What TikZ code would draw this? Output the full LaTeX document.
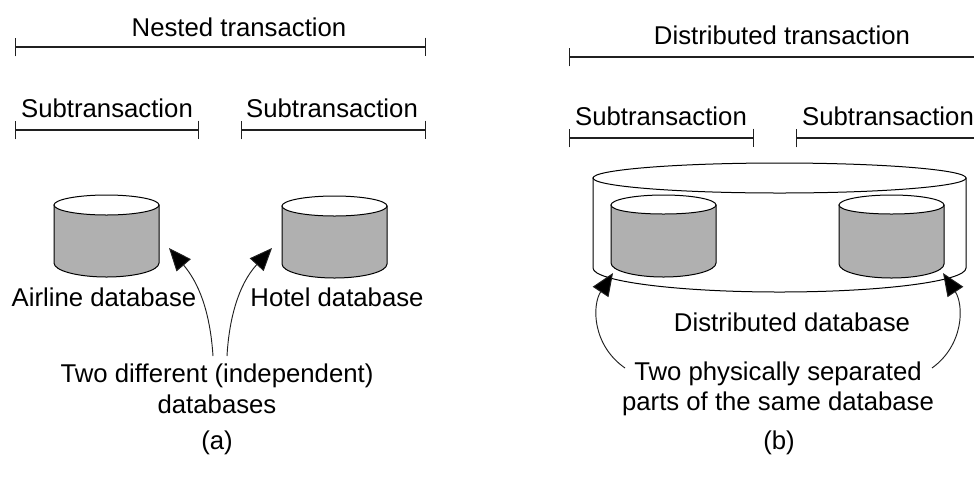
\documentclass[tikz,border=0pt]{standalone}
\usepackage{fontspec}
\setmainfont{Liberation Sans}
\usetikzlibrary{arrows.meta}

\definecolor{drumgray}{HTML}{B0B0B0}
\definecolor{inkgray}{HTML}{202020}

\tikzset{
    label_text/.style = {font = \fontsize{19.3}{23}\selectfont, align = center, inner sep = 0pt},
    line_text/.style = {label_text, text height = 18pt, text depth = 3.5pt},
    span_bar/.style = {inkgray, line width = 0.8pt, {Bar[width = 14pt]}-{Bar[width = 14pt]}},
    open_bar/.style = {inkgray, line width = 0.8pt, {Bar[width = 14pt]}-},
    pointer/.style = {inkgray, line width = 0.7pt, -{Triangle[length = 17pt, width = 14pt, fill = black]}},
    drum_line/.style = {black, line width = 0.75pt}
}

% drum: left x, right x, top, rim, front of lid, end of side, bottom; #8 = body fill
\newcommand{\drum}[8]{
    \pgfmathsetmacro{\xm}{(#1 + #2) / 2}
    \pgfmathsetmacro{\kx}{0.55 * (#2 - #1) / 2}
    \pgfmathsetmacro{\kb}{0.55 * (#7 - #6)}
    \pgfmathsetmacro{\kt}{0.55 * (#4 - #3)}
    \filldraw[drum_line, fill = #8] (#1, #4) -- (#1, #6)
        .. controls (#1, #6 + \kb) and (\xm - \kx, #7) .. (\xm, #7)
        .. controls (\xm + \kx, #7) and (#2, #6 + \kb) .. (#2, #6) -- (#2, #4) -- cycle;
    \filldraw[drum_line, fill = white] (#1, #4)
        .. controls (#1, #4 - \kt) and (\xm - \kx, #3) .. (\xm, #3)
        .. controls (\xm + \kx, #3) and (#2, #4 - \kt) .. (#2, #4)
        .. controls (#2, #4 + \kt) and (\xm + \kx, #5) .. (\xm, #5)
        .. controls (\xm - \kx, #5) and (#1, #4 + \kt) .. (#1, #4) -- cycle;
}

\begin{document}
\begin{tikzpicture}[x = 0.75pt, y = -0.75pt]
    \useasboundingbox (0, 0) rectangle (974, 480);

    % (a)
    \coordinate (nested_l) at (15, 47);
    \coordinate (nested_r) at (426, 47);
    \coordinate (sub_al) at (15, 130);
    \coordinate (sub_ar) at (199, 130);
    \coordinate (sub_bl) at (241, 130);
    \coordinate (sub_br) at (426, 130);

    \node[line_text] (nested) at (239, 27) {Nested transaction};
    \draw[span_bar] (nested_l) -- (nested_r);

    \node[line_text] (sub_a) at (107, 108) {Subtransaction};
    \node[line_text] (sub_b) at (332, 108) {Subtransaction};
    \draw[span_bar] (sub_al) -- (sub_ar);
    \draw[span_bar] (sub_bl) -- (sub_br);

    \drum{54}{159}{195}{205}{215}{263}{277}{drumgray}
    \drum{282}{387}{196}{206}{216}{264}{278}{drumgray}

    \node[line_text] (airline) at (104, 297) {Airline database};
    \node[line_text] (hotel) at (337, 297) {Hotel database};
    \node[label_text] (different) at (217, 389) {Two different (independent)\\databases};

    \coordinate (airline_from) at (213, 356);
    \coordinate (airline_tip) at (169, 248);
    \coordinate (hotel_from) at (227, 356);
    \coordinate (hotel_tip) at (272, 248);
    \draw[pointer] (airline_from) .. controls (210, 310) and (198, 282) .. (airline_tip);
    \draw[pointer] (hotel_from) .. controls (229, 320) and (238, 285) .. (hotel_tip);

    \node[line_text] (cap_a) at (217, 440) {(a)};

    % (b)
    \coordinate (dist_l) at (569, 57);
    \coordinate (dist_r) at (974, 57);
    \coordinate (sub_cl) at (569, 138);
    \coordinate (sub_cr) at (754, 138);
    \coordinate (sub_dl) at (796, 138);
    \coordinate (sub_dr) at (974, 138);

    \node[line_text] (dist) at (782, 35) {Distributed transaction};
    \draw[open_bar] (dist_l) -- (dist_r);

    \node[line_text] (sub_c) at (661, 116) {Subtransaction};
    \node[line_text] (sub_d) at (888, 116) {Subtransaction};
    \draw[span_bar] (sub_cl) -- (sub_cr);
    \draw[open_bar] (sub_dl) -- (sub_dr);

    \drum{593}{966}{163}{178}{193}{268}{292}{white}
    \drum{611}{716}{195}{205}{214}{263}{277}{drumgray}
    \drum{839}{944}{195}{205}{214}{264}{278}{drumgray}

    \node[line_text] (dist_db) at (792, 322) {Distributed database};
    \node[label_text] (separated) at (778, 389) {Two physically separated\\parts of the same database};

    \coordinate (part_l_from) at (625, 368);
    \coordinate (part_l_tip) at (613, 273);
    \coordinate (part_r_from) at (932, 368);
    \coordinate (part_r_tip) at (943, 273);
    \draw[pointer] (part_l_from) .. controls (592, 345) and (592, 305) .. (part_l_tip);
    \draw[pointer] (part_r_from) .. controls (964, 345) and (964, 305) .. (part_r_tip);

    \node[line_text] (cap_b) at (779, 440) {(b)};
\end{tikzpicture}
\end{document}
